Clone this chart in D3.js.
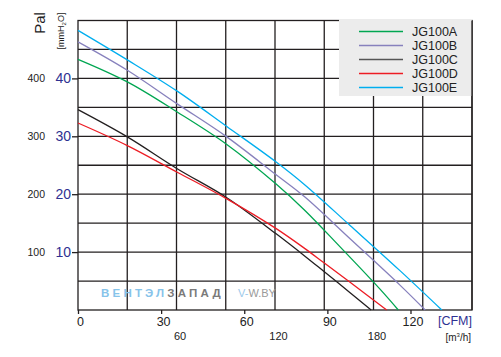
<!DOCTYPE html>
<html><head><meta charset="utf-8">
<script src="https://cdn.jsdelivr.net/npm/d3@7"></script>
<style>body{margin:0;background:#fff;}svg{display:block;font-family:"Liberation Sans",Arial,sans-serif;}</style>
</head><body><svg id="c" width="501" height="357"></svg>
<script>
// Data: x in CFM, y in mmH2O
const seriesNames = ["JG100A","JG100B","JG100C","JG100D","JG100E"];
const seriesColors = ["#00a651","#8781bd","#231f20","#ed1c24","#00aeef"];
const legendColors = ["#00a651","#8781bd","#555555","#ed1c24","#00aeef"];
const cfmA = [0,17.8,35.8,53.7,71.4,81.9,94.6,109.0,115.6];
const mmA  = [43.3,39.4,34.2,28.6,21.8,17.2,10.9,3.6,0];
const cfmB = [0,17.8,35.8,53.7,71.4,81.9,98.2,116.2,125.3];
const mmB  = [46.3,41.4,35.6,29.9,23.4,19.5,12.3,4.3,0];
const cfmC = [0,17.8,35.8,53.7,71.4,81.9,88.9,98.2,105.8];
const mmC  = [34.6,29.9,24.4,19.4,13.2,9.3,6.6,3.0,0];
const cfmD = [0,17.8,35.8,53.7,71.4,81.9,88.9,98.2,111.4];
const mmD  = [32.3,28.4,23.8,19.2,14.1,10.6,8.1,4.8,0];
const cfmE = [0,17.8,35.8,53.7,71.4,81.9,98.2,116.2,131.3];
const mmE  = [48.3,43.2,37.8,31.7,25.6,21.6,14.6,6.8,0];
const cfmTicks = [0,30,60,90,120];
const m3hTicks = [60,120,180];
const mmTicks = [10,20,30,40];
const paTicks = [100,200,300,400];

const series = [[cfmA,mmA],[cfmB,mmB],[cfmC,mmC],[cfmD,mmD],[cfmE,mmE]];

const svg = d3.select("#c");
const L=78, R=472, T=20.5, B=310;
const xM = d3.scaleLinear().domain([0,240]).range([L,R]);     // m3/h
const xC = d3.scaleLinear().domain([0,142.2]).range([L,R]);   // CFM
const y  = d3.scaleLinear().domain([0,50]).range([B,T]);       // mmH2O

const ink = "#231f20";
// grid
const g = svg.append("g");
g.selectAll("line.v").data(d3.range(30,240,30)).join("line")
  .attr("x1",d=>xM(d)).attr("x2",d=>xM(d)).attr("y1",T).attr("y2",B)
  .attr("stroke",ink).attr("stroke-width",1.3);
g.selectAll("line.h").data(d3.range(5,50,5)).join("line")
  .attr("x1",L).attr("x2",R).attr("y1",d=>y(d)).attr("y2",d=>y(d))
  .attr("stroke",ink).attr("stroke-width",1.3);
g.append("rect").attr("x",L).attr("y",T).attr("width",R-L).attr("height",B-T)
  .attr("fill","none").attr("stroke",ink).attr("stroke-width",1.3);

// watermark
const wm = svg.append("text").attr("x",101).attr("y",297).attr("font-size",11.5).attr("font-weight","bold").attr("letter-spacing",3.2);
wm.append("tspan").attr("fill","#86c3ea").text("ВЕНТЭЛ");
wm.append("tspan").attr("fill","#7a7a7a").text("ЗАПАД");
const wm2 = svg.append("text").attr("x",238).attr("y",297).attr("font-size",11);
wm2.append("tspan").attr("fill","#9cc9ea").text("V-");
wm2.append("tspan").attr("fill","#9a9a9a").text("W.BY");

// legend
svg.append("rect").attr("x",339).attr("y",19).attr("width",R-339).attr("height",77).attr("fill","#ececec");
svg.append("line").attr("x1",R).attr("x2",R).attr("y1",T).attr("y2",B).attr("stroke",ink).attr("stroke-width",1.3);
seriesNames.forEach((n,i)=>{
  const yy = 31.5 + i*14;
  svg.append("line").attr("x1",359).attr("x2",403).attr("y1",yy).attr("y2",yy)
    .attr("stroke",legendColors[i]).attr("stroke-width",1.3);
  svg.append("text").attr("x",412).attr("y",yy+4.5).attr("font-size",12.5).attr("fill","#222").text(n);
});

// curves
const line = d3.line().x(d=>xC(d[0])).y(d=>y(d[1])).curve(d3.curveCatmullRom.alpha(0.5));
series.forEach((s,i)=>{
  const pts = s[0].map((v,j)=>[v,s[1][j]]);
  svg.append("path").attr("d",line(pts)).attr("fill","none")
    .attr("stroke",seriesColors[i]).attr("stroke-width",1.3);
});

// axes
const ax = svg.append("g").attr("transform",`translate(0,${B})`)
  .call(d3.axisBottom(xC).tickValues(cfmTicks).tickSize(4).tickPadding(3).tickFormat(d3.format("d")));
ax.select(".domain").remove();
ax.selectAll("line").attr("stroke",ink).attr("stroke-width",1.3);
ax.selectAll("text").attr("font-size",12.5).attr("fill","#222").attr("dx",2).attr("font-family",null);

const am = svg.append("g").attr("transform",`translate(0,${B})`)
  .call(d3.axisBottom(xM).tickValues(m3hTicks).tickSize(0).tickPadding(22).tickFormat(d3.format("d")));
am.select(".domain").remove();
am.selectAll("text").attr("font-size",11).attr("fill","#222").attr("dx",3).attr("font-family",null);

const ay = svg.append("g").attr("transform",`translate(${L},0)`)
  .call(d3.axisLeft(y).tickValues(mmTicks).tickSize(6).tickPadding(1).tickFormat(d3.format("d")));
ay.select(".domain").remove();
ay.selectAll("line").attr("stroke",ink).attr("stroke-width",1.3);
ay.selectAll("text").attr("font-size",14).attr("fill","#2e3192").attr("font-family",null);

const pa = svg.append("g").attr("transform",`translate(45,0)`)
  .call(d3.axisLeft(y).tickValues(paTicks.map(v=>v/10)).tickSize(0).tickPadding(0).tickFormat((d,i)=>paTicks[i]));
pa.select(".domain").remove();
pa.selectAll("text").attr("font-size",10.5).attr("fill","#222").attr("font-family",null);

svg.append("text").attr("x",472).attr("y",325).attr("text-anchor","end").attr("font-size",12.5).attr("fill","#2e3192").text("[CFM]");
const mu = svg.append("text").attr("x",471).attr("y",341).attr("text-anchor","end").attr("font-size",10).attr("fill","#222");
mu.append("tspan").text("[m");
mu.append("tspan").attr("font-size",6).attr("dy",-4).text("3");
mu.append("tspan").attr("dy",4).text("/h]");

svg.append("text").attr("transform","translate(45,23) rotate(-90)").attr("text-anchor","middle").attr("font-size",15).attr("fill","#222").text("Pal");
const mh = svg.append("text").attr("transform","translate(64,31) rotate(-90)").attr("text-anchor","middle").attr("font-size",9).attr("fill","#222");
mh.append("tspan").text("[mmH");
mh.append("tspan").attr("font-size",6).attr("dy",2).text("2");
mh.append("tspan").attr("dy",-2).text("O]");
</script></body></html>
